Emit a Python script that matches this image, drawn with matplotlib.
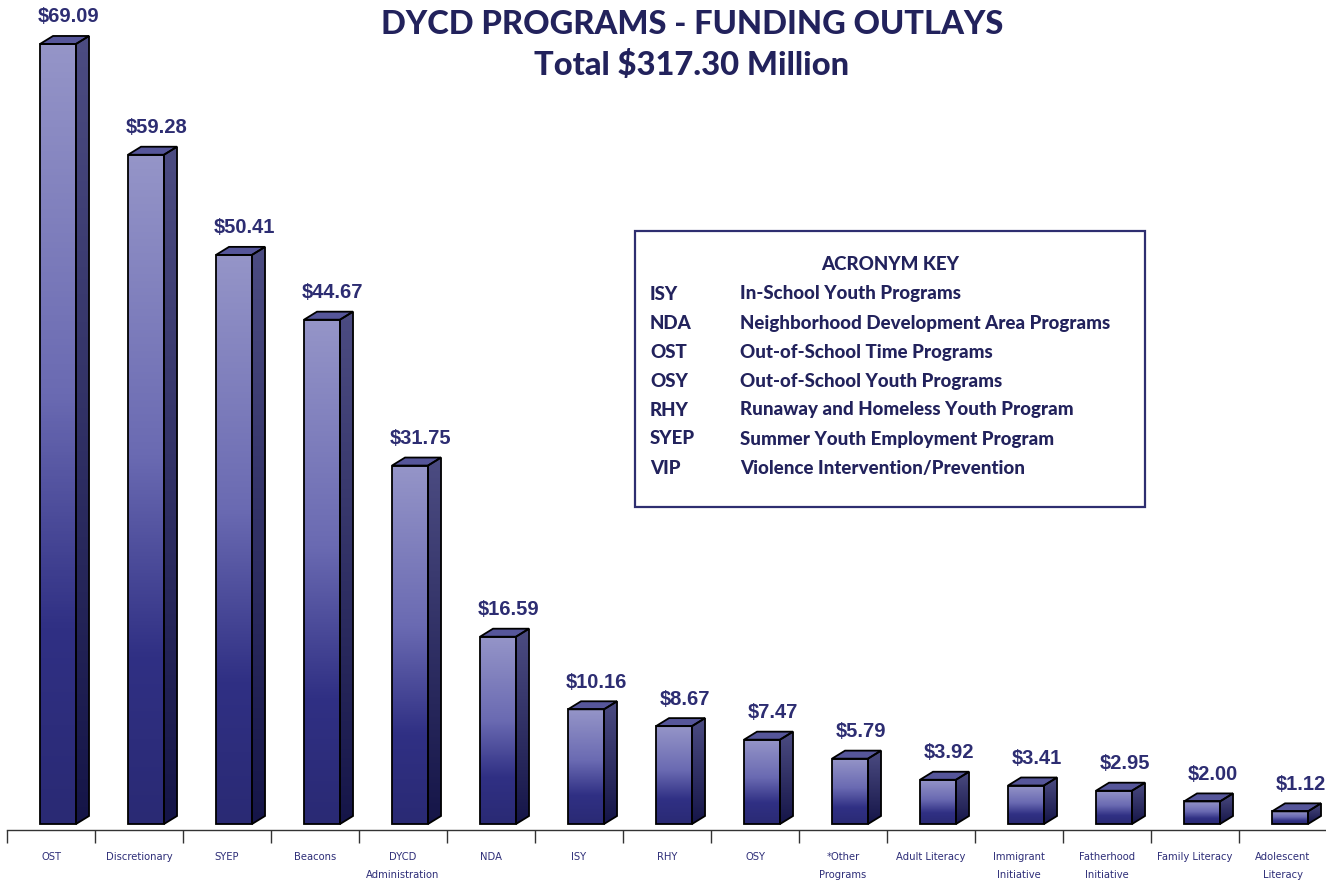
import numpy as np
import matplotlib.pyplot as plt
from matplotlib.patches import Polygon, Rectangle
from matplotlib.colors import LinearSegmentedColormap

# funding outlays in $ millions
programs = ['OST', 'Discretionary', 'SYEP', 'Beacons', 'DYCD\nAdministration', 'NDA', 'ISY', 'RHY', 'OSY',
            '*Other\nPrograms', 'Adult Literacy', 'Immigrant\nInitiative', 'Fatherhood\nInitiative',
            'Family Literacy', 'Adolescent\nLiteracy']
outlays = [69.09, 59.28, 50.41, 44.67, 31.75, 16.59, 10.16, 8.67, 7.47, 5.79, 3.92, 3.41, 2.95, 2.00, 1.12]

acronyms = ['ISY', 'NDA', 'OST', 'OSY', 'RHY', 'SYEP', 'VIP']
acronym_names = ['In-School Youth Programs', 'Neighborhood Development Area Programs',
                 'Out-of-School Time Programs', 'Out-of-School Youth Programs',
                 'Runaway and Homeless Youth Program', 'Summer Youth Employment Program',
                 'Violence Intervention/Prevention']

NAVY = '#22225c'
LABEL = '#2d2d72'
front_cmap = LinearSegmentedColormap.from_list(
    'front', [(0, '#9595c8'), (0.45, '#6a6ab2'), (0.75, '#303084'), (1, '#2a2a74')])
side_cmap = LinearSegmentedColormap.from_list('side', ['#4c4c82', '#151548'])

W, H = 1326, 880
fig = plt.figure(figsize=(W / 100, H / 100), dpi=100)
ax = fig.add_axes([7 / W, 50 / H, 1320 / W, 830 / H])

dx, dy = 0.148, 0.71          # depth of the 3d bars
left, right = -0.125, 0.284   # front face relative to category centre
grad = np.linspace(0, 1, 256).reshape(-1, 1)

for i, v in enumerate(outlays):
    x0, x1 = i + left, i + right
    front = Polygon([(x0, 0), (x1, 0), (x1, v), (x0, v)], closed=True, transform=ax.transData)
    im = ax.imshow(grad, cmap=front_cmap, extent=(x0, x1, 0, v), origin='upper',
                   aspect='auto', interpolation='bilinear', zorder=2)
    im.set_clip_path(front)
    side = Polygon([(x1, 0), (x1 + dx, dy), (x1 + dx, v + dy), (x1, v)], closed=True, transform=ax.transData)
    im2 = ax.imshow(grad, cmap=side_cmap, extent=(x1, x1 + dx, 0, v + dy), origin='upper',
                    aspect='auto', interpolation='bilinear', zorder=2)
    im2.set_clip_path(side)
    top = [(x0, v), (x1, v), (x1 + dx, v + dy), (x0 + dx, v + dy)]
    ax.add_patch(Polygon(top, closed=True, facecolor='#56569a', edgecolor='black', lw=1.3, zorder=3))
    ax.add_patch(Polygon(front.get_xy(), closed=True, fill=False, edgecolor='black', lw=1.3, zorder=3))
    ax.add_patch(Polygon(side.get_xy(), closed=True, fill=False, edgecolor='black', lw=1.3, zorder=3))
    ax.text(i + 0.2, v + dy + 1.2, f'${v:.2f}', ha='center', va='baseline', fontsize=14.5,
            fontweight='bold', color=LABEL, family='Liberation Sans', clip_on=False)

ax.set_xlim(-0.5, 14.5)
ax.set_ylim(-0.53, 830 / 11.29 - 0.53)
for s in ['top', 'left', 'right']:
    ax.spines[s].set_visible(False)
ax.spines['bottom'].set_color('#333333')
ax.spines['bottom'].set_linewidth(1)
ax.set_yticks([])
ax.set_xticks(range(len(programs)))
ax.set_xticklabels(programs, fontsize=7.2, color='#2e2e78', linespacing=1.95, family='DejaVu Sans')
ax.set_xticks(np.arange(-0.5, 15, 1), minor=True)
ax.tick_params(axis='x', which='major', length=0, pad=16)
ax.tick_params(axis='x', which='minor', length=9.5, width=1, color='#333333', direction='out')

# titles
fig.text(692 / W, 1 - 24 / H, 'DYCD PROGRAMS - FUNDING OUTLAYS', ha='center', va='center',
         fontsize=23.5, fontweight='black', color=NAVY, family='Lato')
fig.text(692 / W, 1 - 65 / H, 'Total $317.30 Million', ha='center', va='center',
         fontsize=23.5, fontweight='black', color=NAVY, family='Lato')

# acronym key box
fig.patches.append(Rectangle((635 / W, 1 - 507 / H), 510 / W, 276 / H, transform=fig.transFigure,
                             fill=False, edgecolor='#2e2e70', lw=1.6))
fig.text(890 / W, 1 - 264 / H, 'ACRONYM KEY', ha='center', va='center', fontsize=13.5,
         fontweight='black', color=NAVY, family='Lato')
for k, (a, n) in enumerate(zip(acronyms, acronym_names)):
    yy = 1 - (294 + 29 * k) / H
    fig.text(650 / W, yy, a, ha='left', va='center', fontsize=13.5, fontweight='black', color=NAVY, family='Lato')
    fig.text(740 / W, yy, n, ha='left', va='center', fontsize=13.5, fontweight='black', color=NAVY, family='Lato')

fig.savefig('out.png', dpi=100)
